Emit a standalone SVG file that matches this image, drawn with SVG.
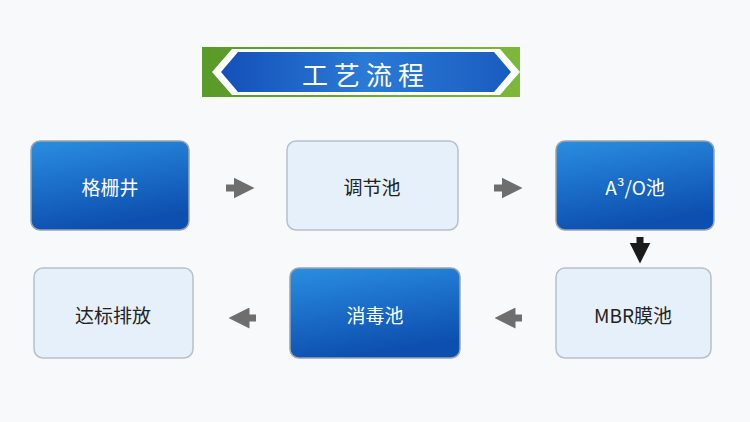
<svg xmlns="http://www.w3.org/2000/svg" width="750" height="422" viewBox="0 0 750 422">
<defs>
<linearGradient id="bl" x1="0" y1="0" x2="0.3" y2="1"><stop offset="0" stop-color="#2a8ee0"/><stop offset="1" stop-color="#0d4fb0"/></linearGradient>
<linearGradient id="bn" x1="0" y1="0" x2="1" y2="0"><stop offset="0" stop-color="#1450b8"/><stop offset="0.5" stop-color="#2a7ad6"/><stop offset="1" stop-color="#1a5cc0"/></linearGradient>
<linearGradient id="gr" x1="0" y1="0" x2="1" y2="0"><stop offset="0" stop-color="#5a9a2a"/><stop offset="1" stop-color="#7cb83a"/></linearGradient>
<marker id="ah" markerWidth="3" markerHeight="3" refX="1.5" refY="1.5" orient="auto"><path d="M0,0L3,1.5L0,3z" fill="#6e6e6e"/></marker>
<marker id="ahd" markerWidth="3" markerHeight="3" refX="1.5" refY="1.5" orient="auto"><path d="M0,0L3,1.5L0,3z" fill="#1a1a1a"/></marker>
</defs>
<style>
.db{fill:url(#bl);stroke:#9aa4b0;stroke-width:1.5}
.lt{fill:#e6f0fa;stroke:#b8c0ca;stroke-width:1.5}
.t{font-family:"Noto Sans CJK SC","Noto Sans",sans-serif;font-size:19px;text-anchor:middle;dominant-baseline:central}
.w{fill:#fff}.k{fill:#222}
.c{stroke:#6e6e6e;stroke-width:7;fill:none}
</style>
<rect width="750" height="422" fill="#f8f9fb"/>
<g id="title">
<rect x="202" y="47" width="318" height="50" fill="url(#gr)"/>
<polygon points="212,72 232,49 500,49 520,72 500,95 232,95" fill="#fff"/>
<polygon points="221,72 238,52 494,52 511,72 494,92 238,92" fill="url(#bn)"/>
<text x="366" y="73" class="t w" style="font-size:26px;letter-spacing:6px">工艺流程</text>
</g>
<g id="n1"><rect x="31" y="141" width="158" height="89" rx="9" class="db"/><text x="110" y="186" class="t w">格栅井</text></g>
<g id="n2"><rect x="287" y="141" width="171" height="89" rx="9" class="lt"/><text x="372" y="186" class="t k">调节池</text></g>
<g id="n3"><rect x="556" y="141" width="158" height="89" rx="9" class="db"/><text x="635" y="186" class="t w">A³/O池</text></g>
<g id="n4"><rect x="556" y="268" width="155" height="90" rx="9" class="lt"/><text x="633" y="314" class="t k">MBR膜池</text></g>
<g id="n5"><rect x="290" y="268" width="170" height="90" rx="9" class="db"/><text x="375" y="314" class="t w">消毒池</text></g>
<g id="n6"><rect x="34" y="268" width="159" height="90" rx="9" class="lt"/><text x="113" y="314" class="t k">达标排放</text></g>
<g id="connectors">
<line x1="226" y1="188" x2="244" y2="188" class="c" marker-end="url(#ah)"/>
<line x1="494" y1="188" x2="512" y2="188" class="c" marker-end="url(#ah)"/>
<line x1="640" y1="237" x2="640" y2="253" class="c" style="stroke:#1a1a1a" marker-end="url(#ahd)"/>
<line x1="522" y1="318" x2="505" y2="318" class="c" marker-end="url(#ah)"/>
<line x1="256" y1="318" x2="239" y2="318" class="c" marker-end="url(#ah)"/>
</g>
</svg>
